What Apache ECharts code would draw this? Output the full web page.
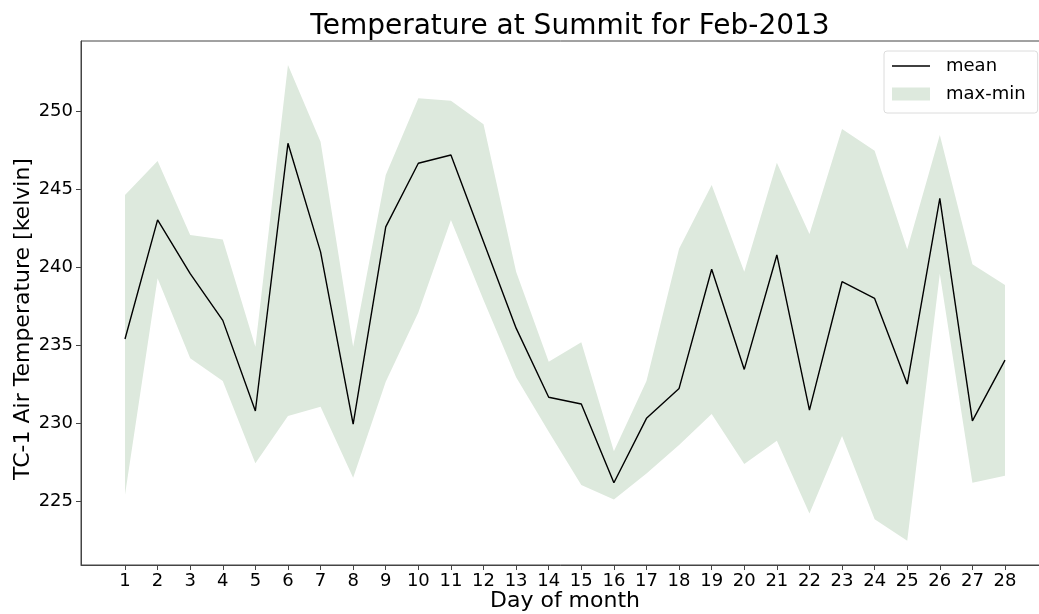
<!DOCTYPE html>
<html>
<head>
<meta charset="utf-8">
<script src="https://cdn.jsdelivr.net/npm/echarts@6/dist/echarts.min.js"></script>
<style>
  html, body { margin: 0; padding: 0; background: #fff; }
  #chart { width: 1039px; height: 614px; }
</style>
</head>
<body>
<div id="chart"></div>
<script>
// day of month (x) and daily TC-1 air temperature [K]
const days = [1, 2, 3, 4, 5, 6, 7, 8, 9, 10, 11, 12, 13, 14, 15, 16, 17, 18, 19, 20, 21, 22, 23, 24, 25, 26, 27, 28];
const meanTemp = [235.4, 243.05, 239.6, 236.6, 230.78, 247.97, 241.0, 229.94, 242.6, 246.69, 247.22, 241.65, 236.1, 231.66,
  231.23, 226.17, 230.31, 232.23, 239.88, 233.45, 240.8, 230.84, 239.08, 238.01, 232.51, 244.44, 230.15, 234.05];
const maxTemp = [244.65, 246.83, 242.08, 241.8, 234.9, 253.0, 248.07, 234.9, 245.93, 250.86, 250.7, 249.19, 239.72, 233.94,
  235.19, 228.2, 232.7, 241.2, 245.29, 239.72, 246.72, 242.15, 248.89, 247.5, 241.16, 248.5, 240.2, 238.87];
const minTemp = [225.4, 239.3, 234.16, 232.7, 227.42, 230.46, 231.05, 226.5, 232.66, 237.1, 243.05, 237.9, 232.94, 229.45,
  226.03, 225.1, 226.77, 228.6, 230.58, 227.37, 228.87, 224.2, 229.17, 223.82, 222.45, 239.6, 226.17, 226.62];
const yTicks = [225, 230, 235, 240, 245, 250];

const font = "DejaVu Sans";
const fillColor = "#dde9dd";

let chart = echarts.init(document.getElementById("chart"));

// max-min band: one polygon, upper edge left->right then lower edge back
const renderBand = (params, api) => {
  if (params.dataIndex !== 0) return null;
  const upper = days.map((d, i) => api.coord([d, maxTemp[i]]));
  const lower = days.map((d, i) => api.coord([d, minTemp[i]])).reverse();
  return {
    type: "polygon",
    shape: { points: upper.concat(lower) },
    style: { fill: fillColor },
  };
};

const options = {
  animation: false,
  textStyle: { fontFamily: font },
  title: {
    text: "Temperature at Summit for Feb-2013",
    left: 565,
    top: 8,
    textAlign: "center",
    textStyle: { fontFamily: font, fontSize: 28, fontWeight: "normal", color: "#000" },
  },
  legend: {
    orient: "vertical",
    left: 884,
    top: 51,
    padding: [6, 12, 10, 8],
    itemWidth: 38,
    itemHeight: 13,
    itemGap: 10,
    symbolKeepAspect: true,
    backgroundColor: "#fff",
    borderColor: "#dcdcdc",
    borderWidth: 1,
    borderRadius: 3,
    textStyle: { fontFamily: font, fontSize: 18, color: "#000", padding: [0, 0, 0, 11] },
    data: [
      { name: "mean", icon: "path://M0,0H38V1.4H0Z" },
      { name: "max-min", icon: "rect" },
    ],
  },
  grid: {
    left: 81,
    top: 41,
    right: -10,
    bottom: 49,
    outerBoundsMode: "none",
    containLabel: false,
    show: true,
    borderColor: "#444",
    borderWidth: 1,
  },
  xAxis: {
    type: "value",
    min: -0.35,
    max: 29.35,
    name: "Day of month",
    nameLocation: "middle",
    nameGap: 25,
    nameMoveOverlap: false,
    nameTextStyle: { fontFamily: font, fontSize: 22, color: "#000" },
    axisLine: { show: true, onZero: false, lineStyle: { color: "#444", width: 1 } },
    axisTick: { show: true, length: 5, customValues: days, lineStyle: { color: "#444" } },
    axisLabel: { customValues: days, fontSize: 18, color: "#000", margin: 7 },
    splitLine: { show: false },
  },
  yAxis: {
    type: "value",
    min: 220.89,
    max: 254.54,
    name: "TC-1 Air Temperature [kelvin]",
    nameLocation: "middle",
    nameGap: 47,
    nameMoveOverlap: false,
    nameTextStyle: { fontFamily: font, fontSize: 22, color: "#000", padding: [0, 32, 0, 0] },
    axisLine: { show: true, onZero: false, lineStyle: { color: "#444", width: 1 } },
    axisTick: { show: true, length: 5, customValues: yTicks, lineStyle: { color: "#444" } },
    axisLabel: { customValues: yTicks, fontSize: 18, color: "#000", margin: 8 },
    splitLine: { show: false },
  },
  series: [
    {
      name: "max-min",
      type: "custom",
      renderItem: renderBand,
      color: fillColor,
      silent: true,
      encode: { x: 0, y: [1, 2] },
      data: days.map((d, i) => [d, minTemp[i], maxTemp[i]]),
      z: 1,
    },
    {
      name: "mean",
      type: "line",
      symbol: "none",
      color: "#000",
      lineStyle: { color: "#000", width: 1.4 },
      data: days.map((d, i) => [d, meanTemp[i]]),
      z: 3,
    },
  ],
};

chart.setOption(options);
</script>
</body>
</html>
